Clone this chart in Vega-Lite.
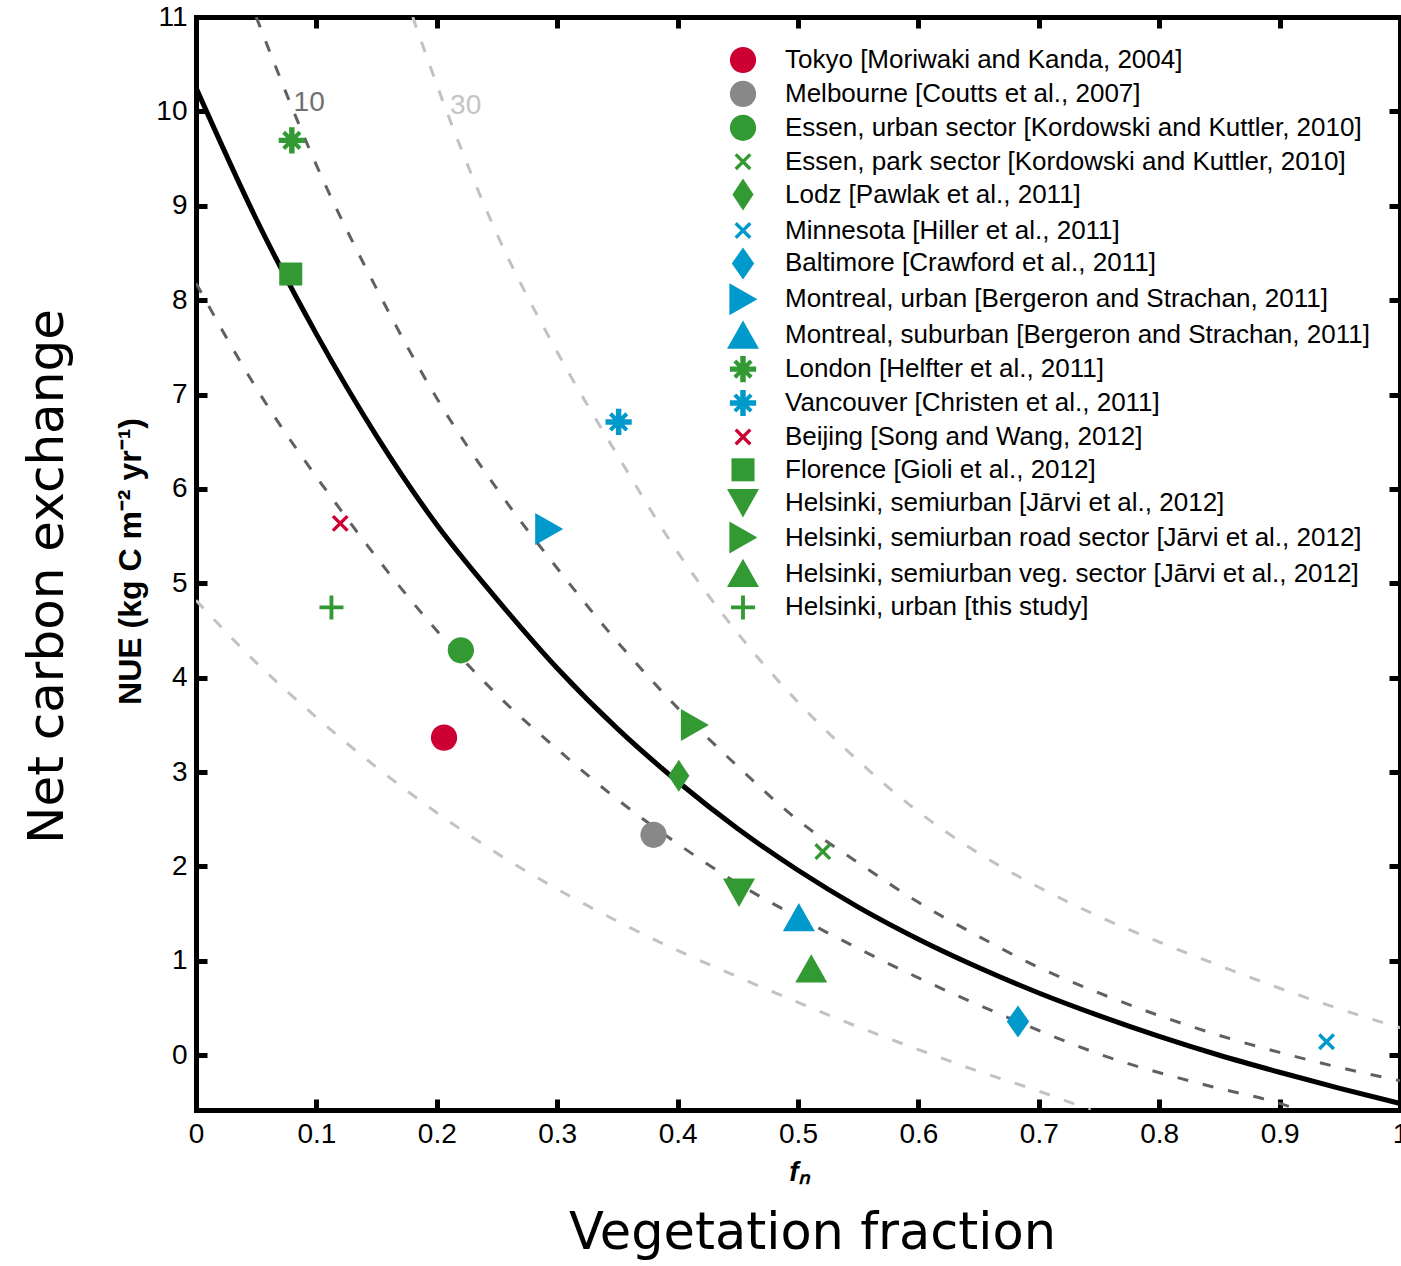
{
  "$schema": "https://vega.github.io/schema/vega-lite/v6.json",
  "width": 1204,
  "height": 1093,
  "autosize": {"type": "none"},
  "padding": {"left": 196, "top": 17, "right": 1, "bottom": 156},
  "background": "white",
  "config": {
    "view": {"stroke": null},
    "font": "Liberation Sans",
    "axis": {
      "domainColor": "black", "domainWidth": 5, "domainCap": "square",
      "tickColor": "black", "tickWidth": 5, "tickSize": -11,
      "labelFont": "Liberation Sans", "labelFontSize": 28, "labelColor": "black",
      "grid": false, "labelFlush": false, "labelOverlap": false
    },
    "legend": {
      "orient": "none", "legendX": 531, "legendY": 27, "direction": "vertical", "columns": 1,
      "symbolSize": 1024, "symbolStrokeWidth": 0, "symbolOpacity": 1,
      "labelFont": "Liberation Sans", "labelFontSize": 26, "labelColor": "black",
      "labelLimit": 1000, "labelOffset": 26, "rowPadding": 3.9, "padding": 0
    }
  },
  "datasets": {
    "curves": [
      {"curve": "fit", "fn": 0.0, "nue": 10.25}, {"curve": "fit", "fn": 0.05, "nue": 8.86},
      {"curve": "fit", "fn": 0.1, "nue": 7.64}, {"curve": "fit", "fn": 0.15, "nue": 6.56},
      {"curve": "fit", "fn": 0.2, "nue": 5.62}, {"curve": "fit", "fn": 0.25, "nue": 4.83},
      {"curve": "fit", "fn": 0.3, "nue": 4.1}, {"curve": "fit", "fn": 0.35, "nue": 3.46},
      {"curve": "fit", "fn": 0.4, "nue": 2.9}, {"curve": "fit", "fn": 0.45, "nue": 2.4},
      {"curve": "fit", "fn": 0.5, "nue": 1.96}, {"curve": "fit", "fn": 0.55, "nue": 1.57},
      {"curve": "fit", "fn": 0.6, "nue": 1.23}, {"curve": "fit", "fn": 0.65, "nue": 0.93},
      {"curve": "fit", "fn": 0.7, "nue": 0.66}, {"curve": "fit", "fn": 0.75, "nue": 0.42},
      {"curve": "fit", "fn": 0.8, "nue": 0.2}, {"curve": "fit", "fn": 0.85, "nue": 0.0},
      {"curve": "fit", "fn": 0.9, "nue": -0.18}, {"curve": "fit", "fn": 0.95, "nue": -0.35},
      {"curve": "fit", "fn": 1.0, "nue": -0.51},
      {"curve": "10 upper", "fn": 0.05, "nue": 11.0}, {"curve": "10 upper", "fn": 0.1, "nue": 9.43},
      {"curve": "10 upper", "fn": 0.15, "nue": 8.12}, {"curve": "10 upper", "fn": 0.2, "nue": 6.96},
      {"curve": "10 upper", "fn": 0.25, "nue": 6.0}, {"curve": "10 upper", "fn": 0.3, "nue": 5.16},
      {"curve": "10 upper", "fn": 0.35, "nue": 4.38}, {"curve": "10 upper", "fn": 0.4, "nue": 3.68},
      {"curve": "10 upper", "fn": 0.45, "nue": 3.06}, {"curve": "10 upper", "fn": 0.5, "nue": 2.49},
      {"curve": "10 upper", "fn": 0.55, "nue": 2.04}, {"curve": "10 upper", "fn": 0.6, "nue": 1.62},
      {"curve": "10 upper", "fn": 0.65, "nue": 1.26}, {"curve": "10 upper", "fn": 0.7, "nue": 0.93},
      {"curve": "10 upper", "fn": 0.75, "nue": 0.66}, {"curve": "10 upper", "fn": 0.8, "nue": 0.42},
      {"curve": "10 upper", "fn": 0.85, "nue": 0.21}, {"curve": "10 upper", "fn": 0.9, "nue": 0.03},
      {"curve": "10 upper", "fn": 0.95, "nue": -0.13}, {"curve": "10 upper", "fn": 1.0, "nue": -0.27},
      {"curve": "10 lower", "fn": 0.0, "nue": 8.18}, {"curve": "10 lower", "fn": 0.05, "nue": 7.07},
      {"curve": "10 lower", "fn": 0.12, "nue": 5.78}, {"curve": "10 lower", "fn": 0.202, "nue": 4.47},
      {"curve": "10 lower", "fn": 0.25, "nue": 3.82}, {"curve": "10 lower", "fn": 0.304, "nue": 3.2},
      {"curve": "10 lower", "fn": 0.345, "nue": 2.76}, {"curve": "10 lower", "fn": 0.399, "nue": 2.25},
      {"curve": "10 lower", "fn": 0.45, "nue": 1.82}, {"curve": "10 lower", "fn": 0.505, "nue": 1.43},
      {"curve": "10 lower", "fn": 0.6, "nue": 0.82}, {"curve": "10 lower", "fn": 0.667, "nue": 0.44},
      {"curve": "10 lower", "fn": 0.76, "nue": -0.03}, {"curve": "10 lower", "fn": 0.84, "nue": -0.32},
      {"curve": "10 lower", "fn": 0.9, "nue": -0.51}, {"curve": "10 lower", "fn": 0.917, "nue": -0.58},
      {"curve": "30 upper", "fn": 0.18, "nue": 11.0}, {"curve": "30 upper", "fn": 0.21, "nue": 9.94},
      {"curve": "30 upper", "fn": 0.25, "nue": 8.7}, {"curve": "30 upper", "fn": 0.3, "nue": 7.45},
      {"curve": "30 upper", "fn": 0.35, "nue": 6.36}, {"curve": "30 upper", "fn": 0.4, "nue": 5.33},
      {"curve": "30 upper", "fn": 0.45, "nue": 4.47}, {"curve": "30 upper", "fn": 0.5, "nue": 3.74},
      {"curve": "30 upper", "fn": 0.55, "nue": 3.12}, {"curve": "30 upper", "fn": 0.6, "nue": 2.58},
      {"curve": "30 upper", "fn": 0.65, "nue": 2.14}, {"curve": "30 upper", "fn": 0.7, "nue": 1.78},
      {"curve": "30 upper", "fn": 0.75, "nue": 1.47}, {"curve": "30 upper", "fn": 0.8, "nue": 1.2},
      {"curve": "30 upper", "fn": 0.85, "nue": 0.95}, {"curve": "30 upper", "fn": 0.9, "nue": 0.71},
      {"curve": "30 upper", "fn": 0.95, "nue": 0.49}, {"curve": "30 upper", "fn": 1.0, "nue": 0.29},
      {"curve": "30 lower", "fn": 0.0, "nue": 4.82}, {"curve": "30 lower", "fn": 0.05, "nue": 4.16},
      {"curve": "30 lower", "fn": 0.1, "nue": 3.58}, {"curve": "30 lower", "fn": 0.15, "nue": 3.05},
      {"curve": "30 lower", "fn": 0.2, "nue": 2.57}, {"curve": "30 lower", "fn": 0.25, "nue": 2.14},
      {"curve": "30 lower", "fn": 0.3, "nue": 1.76}, {"curve": "30 lower", "fn": 0.35, "nue": 1.42},
      {"curve": "30 lower", "fn": 0.4, "nue": 1.11}, {"curve": "30 lower", "fn": 0.45, "nue": 0.83},
      {"curve": "30 lower", "fn": 0.5, "nue": 0.56}, {"curve": "30 lower", "fn": 0.55, "nue": 0.3},
      {"curve": "30 lower", "fn": 0.6, "nue": 0.06}, {"curve": "30 lower", "fn": 0.65, "nue": -0.17},
      {"curve": "30 lower", "fn": 0.7, "nue": -0.38}, {"curve": "30 lower", "fn": 0.743, "nue": -0.58}
    ],
    "sites": [
      {"site": "Tokyo [Moriwaki and Kanda, 2004]", "fn": 0.206, "nue": 3.365},
      {"site": "Melbourne [Coutts et al., 2007]", "fn": 0.38, "nue": 2.335},
      {"site": "Essen, urban sector [Kordowski and Kuttler, 2010]", "fn": 0.22, "nue": 4.29},
      {"site": "Essen, park sector [Kordowski and Kuttler, 2010]", "fn": 0.5206, "nue": 2.158},
      {"site": "Lodz [Pawlak et al., 2011]", "fn": 0.401, "nue": 2.96},
      {"site": "Minnesota [Hiller et al., 2011]", "fn": 0.939, "nue": 0.143},
      {"site": "Baltimore [Crawford et al., 2011]", "fn": 0.6827, "nue": 0.358},
      {"site": "Montreal, urban [Bergeron and Strachan, 2011]", "fn": 0.293, "nue": 5.575},
      {"site": "Montreal, suburban [Bergeron and Strachan, 2011]", "fn": 0.5007, "nue": 1.458},
      {"site": "London [Helfter et al., 2011]", "fn": 0.0796, "nue": 9.693},
      {"site": "Vancouver [Christen et al., 2011]", "fn": 0.351, "nue": 6.71},
      {"site": "Beijing [Song and Wang, 2012]", "fn": 0.1198, "nue": 5.635},
      {"site": "Florence [Gioli et al., 2012]", "fn": 0.0787, "nue": 8.277},
      {"site": "Helsinki, semiurban [Jārvi et al., 2012]", "fn": 0.451, "nue": 1.728},
      {"site": "Helsinki, semiurban road sector [Jārvi et al., 2012]", "fn": 0.414, "nue": 3.5},
      {"site": "Helsinki, semiurban veg. sector [Jārvi et al., 2012]", "fn": 0.511, "nue": 0.914},
      {"site": "Helsinki, urban [this study]", "fn": 0.1125, "nue": 4.745}
    ],
    "labels": [
      {"label": "10", "fn": 0.094, "nue": 10.09},
      {"label": "30", "fn": 0.224, "nue": 10.06}
    ]
  },
  "resolve": {"axis": {"x": "independent", "y": "independent"}},
  "layer": [
    {
      "data": {"name": "curves"},
      "transform": [{"filter": "datum.curve === 'fit'"}],
      "mark": {"type": "line", "color": "black", "strokeWidth": 5, "interpolate": "monotone", "clip": true},
      "encoding": {
        "x": {"field": "fn", "type": "quantitative", "scale": {"domain": [0, 1], "nice": false, "zero": false},
          "axis": {"orient": "bottom", "values": [0, 0.1, 0.2, 0.3, 0.4, 0.5, 0.6, 0.7, 0.8, 0.9, 1], "format": ".1~f",
            "labelPadding": 21, "title": "fₙ", "titleFont": "Liberation Sans", "titleFontSize": 28, "titleFontWeight": "bold", "titleFontStyle": "italic",
            "titleColor": "black", "titleX": 603, "titleY": 70, "titleAlign": "center", "titleBaseline": "alphabetic"}},
        "y": {"field": "nue", "type": "quantitative", "scale": {"domain": [-0.58, 11], "nice": false, "zero": false},
          "axis": {"orient": "left", "values": [0, 1, 2, 3, 4, 5, 6, 7, 8, 9, 10, 11], "format": "d",
            "labelPadding": 20, "title": "NUE (kg C m⁻² yr⁻¹)", "titleFont": "Liberation Sans", "titleFontSize": 32, "titleFontWeight": "bold",
            "titleColor": "black", "titleAngle": -90, "titleX": -56, "titleY": 544, "titleAlign": "center", "titleBaseline": "alphabetic"}}
      }
    },
    {
      "data": {"name": "curves"},
      "transform": [{"filter": "datum.curve === '10 upper' || datum.curve === '10 lower'"}],
      "mark": {"type": "line", "color": "#606060", "strokeWidth": 3, "strokeDash": [11, 15], "interpolate": "monotone", "clip": true},
      "encoding": {
        "x": {"field": "fn", "type": "quantitative", "scale": {"domain": [0, 1], "nice": false, "zero": false}, "axis": null},
        "y": {"field": "nue", "type": "quantitative", "scale": {"domain": [-0.58, 11], "nice": false, "zero": false}, "axis": null},
        "detail": {"field": "curve", "type": "nominal"}
      }
    },
    {
      "data": {"name": "curves"},
      "transform": [{"filter": "datum.curve === '30 upper' || datum.curve === '30 lower'"}],
      "mark": {"type": "line", "color": "#c2c2c2", "strokeWidth": 3, "strokeDash": [11, 15], "interpolate": "monotone", "clip": true},
      "encoding": {
        "x": {"field": "fn", "type": "quantitative", "scale": {"domain": [0, 1], "nice": false, "zero": false}, "axis": null},
        "y": {"field": "nue", "type": "quantitative", "scale": {"domain": [-0.58, 11], "nice": false, "zero": false}, "axis": null},
        "detail": {"field": "curve", "type": "nominal"}
      }
    },
    {
      "mark": {"type": "rule", "color": "black", "strokeWidth": 5},
      "encoding": {
        "y": {"datum": 0, "type": "quantitative", "scale": {"domain": [-0.58, 11], "nice": false, "zero": false}, "axis": null}
      }
    },
    {
      "data": {"name": "labels"},
      "mark": {"type": "text", "font": "Liberation Sans", "fontSize": 28, "align": "center", "baseline": "middle"},
      "encoding": {
        "x": {"field": "fn", "type": "quantitative", "scale": {"domain": [0, 1], "nice": false, "zero": false},
          "axis": {"orient": "top", "values": [0, 0.1, 0.2, 0.3, 0.4, 0.5, 0.6, 0.7, 0.8, 0.9, 1], "labels": false, "title": null}},
        "y": {"field": "nue", "type": "quantitative", "scale": {"domain": [-0.58, 11], "nice": false, "zero": false},
          "axis": {"orient": "right", "values": [0, 1, 2, 3, 4, 5, 6, 7, 8, 9, 10, 11], "labels": false, "title": null}},
        "text": {"field": "label", "type": "nominal"},
        "color": {"condition": {"test": "datum.label === '30'", "value": "#c4c4c4"}, "value": "#707070"}
      }
    },
    {
      "data": {"name": "sites"},
      "mark": {"type": "point", "filled": true, "opacity": 1, "strokeWidth": 0, "size": 1024},
      "encoding": {
        "x": {"field": "fn", "type": "quantitative", "scale": {"domain": [0, 1], "nice": false, "zero": false},
          "axis": {"orient": "bottom", "domain": false, "ticks": false, "labels": false, "title": "Vegetation fraction",
            "titleFont": "DejaVu Sans", "titleFontSize": 51, "titleFontWeight": "normal", "titleColor": "black",
            "titleX": 616, "titleY": 138, "titleAlign": "center", "titleBaseline": "alphabetic"}},
        "y": {"field": "nue", "type": "quantitative", "scale": {"domain": [-0.58, 11], "nice": false, "zero": false},
          "axis": {"orient": "left", "domain": false, "ticks": false, "labels": false, "title": "Net carbon exchange",
            "titleFont": "DejaVu Sans", "titleFontSize": 50, "titleFontWeight": "normal", "titleColor": "black",
            "titleAngle": -90, "titleX": -134, "titleY": 559, "titleAlign": "center", "titleBaseline": "alphabetic"}},
        "color": {"field": "site", "type": "nominal", "title": null,
          "scale": {
            "domain": ["Tokyo [Moriwaki and Kanda, 2004]", "Melbourne [Coutts et al., 2007]", "Essen, urban sector [Kordowski and Kuttler, 2010]", "Essen, park sector [Kordowski and Kuttler, 2010]", "Lodz [Pawlak et al., 2011]", "Minnesota [Hiller et al., 2011]", "Baltimore [Crawford et al., 2011]", "Montreal, urban [Bergeron and Strachan, 2011]", "Montreal, suburban [Bergeron and Strachan, 2011]", "London [Helfter et al., 2011]", "Vancouver [Christen et al., 2011]", "Beijing [Song and Wang, 2012]", "Florence [Gioli et al., 2012]", "Helsinki, semiurban [Jārvi et al., 2012]", "Helsinki, semiurban road sector [Jārvi et al., 2012]", "Helsinki, semiurban veg. sector [Jārvi et al., 2012]", "Helsinki, urban [this study]"],
            "range": ["#cc0033", "#888888", "#339933", "#339933", "#339933", "#0099cc", "#0099cc", "#0099cc", "#0099cc", "#339933", "#0099cc", "#cc0033", "#339933", "#339933", "#339933", "#339933", "#339933"]
          }},
        "shape": {"field": "site", "type": "nominal", "title": null,
          "scale": {
            "domain": ["Tokyo [Moriwaki and Kanda, 2004]", "Melbourne [Coutts et al., 2007]", "Essen, urban sector [Kordowski and Kuttler, 2010]", "Essen, park sector [Kordowski and Kuttler, 2010]", "Lodz [Pawlak et al., 2011]", "Minnesota [Hiller et al., 2011]", "Baltimore [Crawford et al., 2011]", "Montreal, urban [Bergeron and Strachan, 2011]", "Montreal, suburban [Bergeron and Strachan, 2011]", "London [Helfter et al., 2011]", "Vancouver [Christen et al., 2011]", "Beijing [Song and Wang, 2012]", "Florence [Gioli et al., 2012]", "Helsinki, semiurban [Jārvi et al., 2012]", "Helsinki, semiurban road sector [Jārvi et al., 2012]", "Helsinki, semiurban veg. sector [Jārvi et al., 2012]", "Helsinki, urban [this study]"],
            "range": [
              "M-0.82,0A0.82,0.82,0,1,1,0.82,0A0.82,0.82,0,1,1,-0.82,0Z",
              "M-0.82,0A0.82,0.82,0,1,1,0.82,0A0.82,0.82,0,1,1,-0.82,0Z",
              "M-0.82,0A0.82,0.82,0,1,1,0.82,0A0.82,0.82,0,1,1,-0.82,0Z",
              "M-0.53,-0.38L-0.38,-0.53L0.53,0.38L0.38,0.53ZM0.38,-0.53L0.53,-0.38L-0.38,0.53L-0.53,0.38Z",
              "M0,-1L0.66,0L0,1L-0.66,0Z",
              "M-0.53,-0.38L-0.38,-0.53L0.53,0.38L0.38,0.53ZM0.38,-0.53L0.53,-0.38L-0.38,0.53L-0.53,0.38Z",
              "M0,-1L0.7,0L0,1L-0.7,0Z",
              "M-0.85,-1L0.9,0L-0.85,1Z",
              "M0,-0.92L1,0.85L-1,0.85Z",
              "M-0.17,-0.82L0.17,-0.82L0.17,-0.17L0.82,-0.17L0.82,0.17L0.17,0.17L0.17,0.82L-0.17,0.82L-0.17,0.17L-0.82,0.17L-0.82,-0.17L-0.17,-0.17ZM-0.6,-0.42L-0.42,-0.6L0.6,0.42L0.42,0.6ZM0.42,-0.6L0.6,-0.42L-0.42,0.6L-0.6,0.42Z",
              "M-0.17,-0.82L0.17,-0.82L0.17,-0.17L0.82,-0.17L0.82,0.17L0.17,0.17L0.17,0.82L-0.17,0.82L-0.17,0.17L-0.82,0.17L-0.82,-0.17L-0.17,-0.17ZM-0.6,-0.42L-0.42,-0.6L0.6,0.42L0.42,0.6ZM0.42,-0.6L0.6,-0.42L-0.42,0.6L-0.6,0.42Z",
              "M-0.53,-0.38L-0.38,-0.53L0.53,0.38L0.38,0.53ZM0.38,-0.53L0.53,-0.38L-0.38,0.53L-0.53,0.38Z",
              "M-0.72,-0.72L0.72,-0.72L0.72,0.72L-0.72,0.72Z",
              "M-1,-0.85L1,-0.85L0,0.92Z",
              "M-0.85,-1L0.9,0L-0.85,1Z",
              "M0,-0.92L1,0.85L-1,0.85Z",
              "M-0.12,-0.75L0.12,-0.75L0.12,-0.12L0.75,-0.12L0.75,0.12L0.12,0.12L0.12,0.75L-0.12,0.75L-0.12,0.12L-0.75,0.12L-0.75,-0.12L-0.12,-0.12Z"
            ]
          }}
      }
    }
  ]
}
